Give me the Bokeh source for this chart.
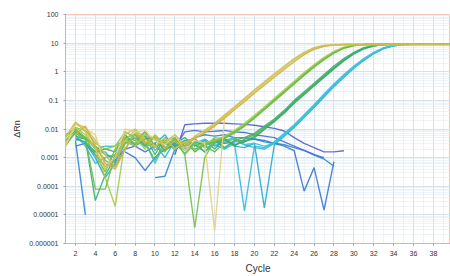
import math
from bokeh.plotting import figure
from bokeh.models import FixedTicker, Range1d
from bokeh.embed import file_html
from bokeh.resources import INLINE

# ---------------- data (log10 of delta Rn per cycle) ----------------
x_ticks = [2, 4, 6, 8, 10, 12, 14, 16, 18, 20, 22, 24, 26, 28, 30, 32, 34, 36, 38]
y_ticks = [1e-6, 1e-5, 1e-4, 1e-3, 1e-2, 1e-1, 1, 10, 100]
y_tick_labels = ["0.000001", "0.00001", "0.0001", "0.001", "0.01", "0.1", "1", "10", "100"]

# each series: (first cycle, log10 values, colour)
Y1 = (1, [-2.55, -1.8, -1.95, -2.4, -2.9, -3.35, -2.2, -2.0, -2.35, -2.6, -2.3, -2.7, -2.45, -2.35, -2.1,
          -1.85, -1.55, -1.27, -0.98, -0.68, -0.4, -0.12, 0.15, 0.42, 0.65, 0.82, 0.91, 0.94,
          0.95, 0.95, 0.95, 0.95, 0.95, 0.95, 0.95, 0.95, 0.95, 0.95, 0.95, 0.95], "#d6b848")
Y2 = (1, [-2.6, -1.85, -2.0, -2.2, -3.3, -3.0, -2.0, -2.1, -2.05, -2.4, -2.55, -2.2, -2.75, -2.4, -2.5,
          -5.55, -1.6, -1.3, -1.02, -0.72, -0.44, -0.15, 0.12, 0.4, 0.63, 0.8, 0.9, 0.94,
          0.95, 0.95, 0.95, 0.95, 0.95, 0.95, 0.95, 0.95, 0.95, 0.95, 0.95, 0.95], "#e6d184")
Y3 = (2, [-2.2, -1.9, -2.6, -3.2, -3.4, -2.7, -2.15, -2.5, -2.25, -2.7, -2.4, -2.65, -2.3, -2.15,
          -1.9, -1.62, -1.33, -1.05, -0.75, -0.47, -0.19, 0.08, 0.35, 0.6, 0.78, 0.89, 0.93,
          0.95, 0.95, 0.95, 0.95, 0.95, 0.95, 0.95, 0.95, 0.95, 0.95, 0.95, 0.95], "#cfb043")
Y4 = (1, [-2.3, -1.75, -2.1, -2.7, -3.4, -3.0, -2.4, -2.6, -2.2, -2.35, -2.45, -2.2, -2.55, -2.25, -2.05,
          -1.8, -1.5, -1.22, -0.93, -0.63, -0.35, -0.07, 0.2, 0.46, 0.68, 0.84, 0.92, 0.94,
          0.95, 0.95, 0.95, 0.95, 0.95, 0.95, 0.95, 0.95, 0.95, 0.95, 0.95, 0.95], "#c9c24c")

G1 = (1, [-2.3, -1.95, -2.05, -2.5, -2.7, -2.6, -2.1, -2.3, -2.7, -2.2, -2.55, -2.35, -2.9, -2.5, -2.6, -2.3, -2.35,
          -2.1, -1.85, -1.57, -1.28, -0.98, -0.68, -0.38, -0.08, 0.2, 0.45, 0.68, 0.84, 0.92, 0.95,
          0.96, 0.96, 0.96, 0.96, 0.96, 0.96, 0.96, 0.96, 0.96], "#8cc63f")
G2 = (1, [-2.2, -2.0, -2.3, -2.9, -3.5, -2.7, -2.3, -2.5, -2.1, -2.6, -2.8, -2.3, -2.9, -5.45, -3.0, -2.4, -2.3,
          -2.15, -1.9, -1.62, -1.33, -1.03, -0.73, -0.43, -0.13, 0.16, 0.42, 0.65, 0.82, 0.91, 0.95,
          0.96, 0.96, 0.96, 0.96, 0.96, 0.96, 0.96, 0.96, 0.96], "#76bf46")
G3 = (2, [-1.95, -2.2, -2.7, -3.7, -4.7, -2.4, -2.05, -2.45, -2.65, -2.3, -2.7, -2.45, -2.75, -2.5, -2.4, -2.25,
          -2.05, -1.8, -1.52, -1.23, -0.93, -0.63, -0.33, -0.03, 0.25, 0.5, 0.71, 0.86, 0.93, 0.95,
          0.96, 0.96, 0.96, 0.96, 0.96, 0.96, 0.96, 0.96, 0.96], "#a5cc45")
G4 = (1, [-2.5, -2.15, -2.35, -4.1, -4.1, -2.9, -2.5, -2.2, -2.55, -2.3, -2.65, -2.4, -2.5, -2.7, -2.55, -2.45, -2.3,
          -2.1, -1.88, -1.6, -1.3, -1.0, -0.7, -0.4, -0.1, 0.18, 0.44, 0.66, 0.83, 0.92, 0.95,
          0.96, 0.96, 0.96, 0.96, 0.96, 0.96, 0.96, 0.96, 0.96], "#6bbb4b")

T1 = (1, [-2.4, -2.05, -2.3, -2.6, -2.9, -3.0, -2.3, -2.4, -2.1, -2.6, -2.45, -2.3, -2.75, -2.45, -2.8, -2.5, -2.35, -2.6, -2.35,
          -2.2, -1.95, -1.7, -1.4, -1.05, -0.75, -0.45, -0.15, 0.15, 0.42, 0.65, 0.82, 0.91, 0.95,
          0.96, 0.96, 0.96, 0.96, 0.96, 0.96, 0.96], "#4db35a")
T2 = (2, [-2.25, -2.35, -4.5, -3.6, -3.0, -2.45, -2.55, -2.25, -2.9, -2.3, -2.6, -2.4, -2.8, -2.55, -2.35, -2.65, -2.4, -2.3,
          -2.15, -1.9, -1.65, -1.35, -1.0, -0.7, -0.4, -0.1, 0.2, 0.46, 0.68, 0.84, 0.92, 0.95,
          0.96, 0.96, 0.96, 0.96, 0.96, 0.96, 0.96], "#3fae6a")
T3 = (1, [-2.6, -2.1, -2.3, -2.6, -3.1, -3.3, -2.7, -2.15, -2.45, -3.1, -2.4, -2.7, -2.45, -2.35, -2.6, -2.8, -2.45, -2.35, -2.45,
          -2.25, -2.0, -1.75, -1.45, -1.1, -0.8, -0.5, -0.2, 0.1, 0.38, 0.62, 0.8, 0.9, 0.95,
          0.96, 0.96, 0.96, 0.96, 0.96, 0.96, 0.96], "#58b84f")
T4 = (2, [-2.35, -2.45, -2.8, -2.7, -2.8, -2.2, -2.6, -2.35, -2.3, -2.75, -2.5, -2.3, -2.6, -2.4, -2.7, -2.35, -2.55, -2.45,
          -2.3, -2.02, -1.72, -1.42, -1.08, -0.78, -0.48, -0.18, 0.12, 0.4, 0.63, 0.81, 0.91, 0.95,
          0.96, 0.96, 0.96, 0.96, 0.96, 0.96, 0.96], "#36aa75")

C1 = (2, [-2.3, -2.5, -2.8, -2.8, -3.2, -2.3, -2.2, -2.6, -2.5, -3.0, -2.4, -2.7, -2.5, -2.35, -2.6, -2.4, -2.3, -2.55, -2.65, -2.7,
          -2.5, -2.2, -1.9, -1.55, -1.2, -0.83, -0.48, -0.15, 0.15, 0.42, 0.65, 0.82, 0.91, 0.95,
          0.96, 0.96, 0.96, 0.96, 0.96], "#2bb5d9")
C2 = (2, [-2.2, -2.6, -3.2, -3.0, -2.9, -2.45, -2.6, -2.2, -2.75, -2.45, -2.5, -2.85, -2.5, -2.6, -2.4, -2.7, -2.5, -4.86, -2.6, -2.65,
          -2.45, -2.15, -1.85, -1.5, -1.15, -0.78, -0.43, -0.1, 0.2, 0.46, 0.68, 0.84, 0.92, 0.95,
          0.96, 0.96, 0.96, 0.96, 0.96], "#34bde0")
C3 = (3, [-2.5, -3.0, -3.7, -3.2, -2.5, -2.3, -2.6, -2.5, -2.2, -2.75, -2.4, -2.55, -2.8, -2.45, -2.35, -2.6, -2.65, -2.5, -4.76,
          -2.55, -2.25, -1.95, -1.6, -1.25, -0.88, -0.52, -0.19, 0.12, 0.4, 0.63, 0.81, 0.91, 0.95,
          0.96, 0.96, 0.96, 0.96, 0.96], "#22aad2")
C4 = (2, [-2.4, -2.3, -2.7, -2.6, -2.6, -2.35, -2.55, -2.45, -3.2, -2.5, -2.7, -2.4, -2.35, -2.65, -2.55, -2.7, -2.4, -2.55, -2.5, -2.6,
          -2.5, -2.22, -1.92, -1.57, -1.22, -0.85, -0.5, -0.17, 0.13, 0.41, 0.64, 0.82, 0.91, 0.95,
          0.96, 0.96, 0.96, 0.96, 0.96], "#3cc4d8")

B1 = (12, [-2.9, -1.85, -1.82, -1.8, -1.8, -1.8, -1.82, -1.84, -1.87, -1.92, -1.98, -2.07, -2.3, -2.5, -2.65, -2.8, -2.8, -2.76], "#5560cc")
B2 = (7, [-2.8, -3.0, -3.45, -3.0, -2.7, -2.55, -2.6, -2.45, -2.5, -2.4, -2.5, -2.45, -2.4, -2.35, -2.45, -2.5, -2.6, -2.76,
          -4.17, -3.35, -4.83, -3.14], "#3b7ad5")
B3 = (2, [-2.41, -5.0, None, None, None, None, None, None, -3.7, -3.65, -2.7, -2.5, -2.3, -2.2, -2.25, -2.2, -2.3, -2.3, -2.35,
          -2.4, -2.5, -2.55, -2.65, -2.75, -2.9, -3.05, -3.3], "#2f86d6")
B4 = (2, [-2.6, -2.5, -2.9, -3.3, -3.1, -2.7, -2.6, -2.8, -2.6, -2.5, -2.65, -2.1, -2.05, -2.1, -2.08, -2.05, -2.1, -2.12, -2.2,
          -2.25, -2.3, -2.45, -2.6, -2.75, -2.9, -3.0], "#4570d8")

series = [B1, B2, B3, B4, C1, C2, C3, C4, T1, T2, T3, T4, G1, G2, G3, G4, Y1, Y2, Y3, Y4]

# ---------------- figure ----------------
p = figure(width=450, height=276, y_axis_type="log", output_backend="svg", toolbar_location=None,
           x_range=Range1d(1, 39.72), y_range=Range1d(1e-6, 100),
           min_border_left=65, min_border_right=0, min_border_top=14, min_border_bottom=30,
           background_fill_color="white", border_fill_color="white")
p.outline_line_color = "#f4c4b4"
p.outline_line_width = 1

for start, vals, col in series:
    xs = list(range(start, start + len(vals)))
    ys = [float("nan") if v is None else 10 ** v for v in vals]
    p.line(xs, ys, line_color=col, line_width=1.4, line_alpha=0.9)

minor_x = [c for c in range(1, 40) if c not in x_ticks]
p.xaxis.ticker = FixedTicker(ticks=x_ticks, minor_ticks=minor_x)
minor_y = []
for t in y_ticks[:-1]:
    for m in [2, 3, 4, 5, 6, 7, 8, 9]:
        minor_y.append(t * m)
p.yaxis.ticker = FixedTicker(ticks=y_ticks, minor_ticks=minor_y)
p.yaxis.major_label_overrides = {t: s for t, s in zip(y_ticks, y_tick_labels)}

for ax in (p.xaxis, p.yaxis):
    ax.axis_line_color = "#f2a894"
    ax.major_tick_line_color = "#8aa0b0"
    ax.minor_tick_line_color = None
    ax.major_tick_out = 2
    ax.major_tick_in = 0
    ax.major_label_text_font = "Liberation Sans"
    ax.major_label_text_font_size = "7px"
    ax.major_label_text_color = "#333333"
    ax.major_label_standoff = 3
    ax.axis_label_text_font = "Liberation Sans"
    ax.axis_label_text_font_style = "normal"
    ax.axis_label_text_color = "#333333"

p.xaxis.axis_label = "Cycle"
p.xaxis.axis_label_text_font_size = "10px"
p.xaxis.axis_label_standoff = 4
p.yaxis.axis_label = "ΔRn"
p.yaxis.axis_label_text_font_size = "9px"
p.yaxis.axis_label_standoff = 4

p.xgrid.grid_line_color = "#d6e2ea"
p.ygrid.grid_line_color = "#d6e2ea"
p.xgrid.minor_grid_line_color = "#dbe6ee"
p.ygrid.minor_grid_line_color = "#dbe6ee"
p.xgrid.minor_grid_line_dash = "1 1"
p.ygrid.minor_grid_line_dash = "1 1"

open("out.html", "w").write(file_html(p, INLINE))
